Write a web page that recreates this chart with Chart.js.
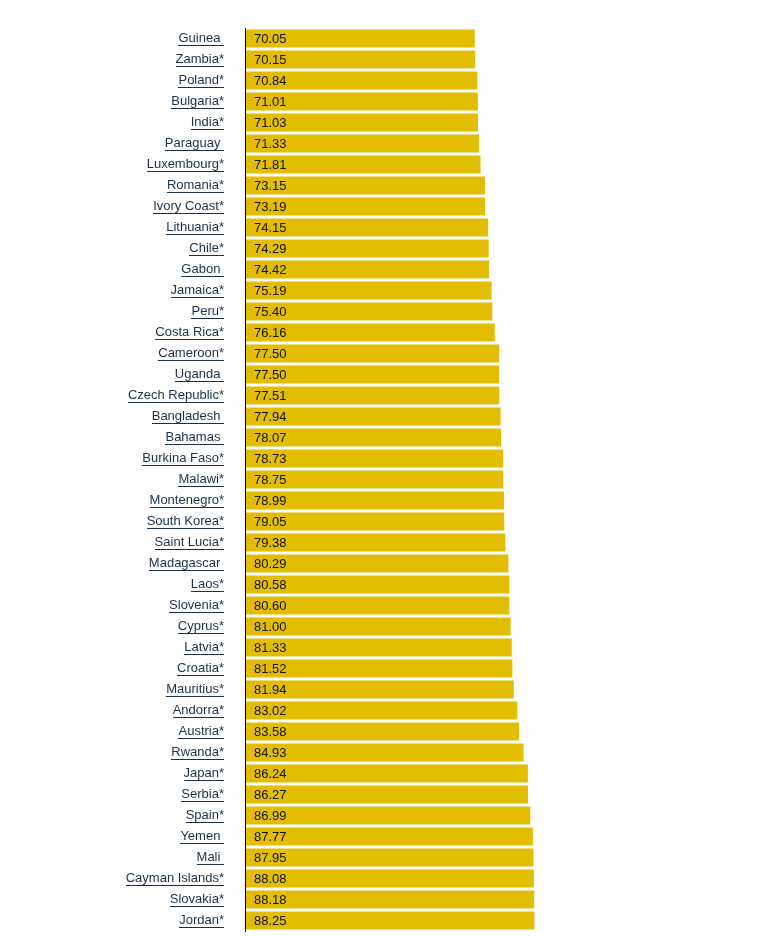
<!DOCTYPE html>
<html>
<head>
<meta charset="utf-8">
<script src="https://cdn.jsdelivr.net/npm/chart.js@4.4.1/dist/chart.umd.min.js"></script>
<style>
  html, body { margin: 0; padding: 0; background: #fff; overflow: hidden; }
  canvas { display: block; }
</style>
</head>
<body>
<canvas id="scoreChart" width="783" height="936"></canvas>
<script>
// Countries (trailing "*" or space kept as shown)
var countries = [
  'Guinea ', 'Zambia*', 'Poland*', 'Bulgaria*', 'India*', 'Paraguay ', 'Luxembourg*',
  'Romania*', 'Ivory Coast*', 'Lithuania*', 'Chile*', 'Gabon ', 'Jamaica*', 'Peru*',
  'Costa Rica*', 'Cameroon*', 'Uganda ', 'Czech Republic*', 'Bangladesh ', 'Bahamas ',
  'Burkina Faso*', 'Malawi*', 'Montenegro*', 'South Korea*', 'Saint Lucia*', 'Madagascar ',
  'Laos*', 'Slovenia*', 'Cyprus*', 'Latvia*', 'Croatia*', 'Mauritius*', 'Andorra*',
  'Austria*', 'Rwanda*', 'Japan*', 'Serbia*', 'Spain*', 'Yemen ', 'Mali ',
  'Cayman Islands*', 'Slovakia*', 'Jordan*'
];
var scores = [
  70.05, 70.15, 70.84, 71.01, 71.03, 71.33, 71.81,
  73.15, 73.19, 74.15, 74.29, 74.42, 75.19, 75.40,
  76.16, 77.50, 77.50, 77.51, 77.94, 78.07,
  78.73, 78.75, 78.99, 79.05, 79.38, 80.29,
  80.58, 80.60, 81.00, 81.33, 81.52, 81.94, 83.02,
  83.58, 84.93, 86.24, 86.27, 86.99, 87.77, 87.95,
  88.08, 88.18, 88.25
];
var scaleMax = 100;

var labelFont = { family: 'Arial, "Liberation Sans", sans-serif', size: 13 };
var labelColor = '#1b3149';

// values written inside the bars
var valueLabels = {
  id: 'valueLabels',
  afterDatasetsDraw: function (chart) {
    var ctx = chart.ctx;
    var meta = chart.getDatasetMeta(0);
    ctx.save();
    ctx.font = '13px Arial, "Liberation Sans", sans-serif';
    ctx.fillStyle = '#111';
    ctx.textAlign = 'left';
    ctx.textBaseline = 'middle';
    meta.data.forEach(function (bar, i) {
      ctx.fillText(scores[i].toFixed(2), bar.base + 9, bar.y + 0.5);
    });
    ctx.restore();
  }
};

// link-style underline under the country names
var underlineLabels = {
  id: 'underlineLabels',
  afterDraw: function (chart) {
    var ctx = chart.ctx;
    var yScale = chart.scales.y;
    var right = yScale.right - yScale.options.ticks.padding;
    ctx.save();
    ctx.font = '13px Arial, "Liberation Sans", sans-serif';
    ctx.fillStyle = labelColor;
    countries.forEach(function (name, i) {
      var y = yScale.getPixelForTick(i);
      var w = ctx.measureText(name).width;
      ctx.fillRect(Math.round(right - w), Math.round(y + 6), Math.round(w), 1);
    });
    ctx.restore();
  }
};

var ctx = document.getElementById('scoreChart').getContext('2d');
var chart = new Chart(ctx, {
  type: 'bar',
  data: {
    labels: countries,
    datasets: [{
      data: scores,
      backgroundColor: '#e3bd02',
      borderWidth: 0,
      barPercentage: 0.86,
      categoryPercentage: 1.0
    }]
  },
  options: {
    indexAxis: 'y',
    responsive: false,
    animation: false,
    layout: {
      padding: { left: 0, right: 210, top: 28, bottom: 5 }
    },
    plugins: {
      legend: { display: false },
      tooltip: { enabled: false }
    },
    scales: {
      x: {
        display: false,
        min: 0,
        max: scaleMax,
        afterFit: function (scale) { scale.height = 0; }
      },
      y: {
        afterFit: function (scale) {
          scale.width = 245;
          scale.paddingTop = 0;
          scale.paddingBottom = 0;
        },
        grid: { display: false, drawTicks: false },
        border: { display: true, color: '#000', width: 1, z: 1 },
        ticks: {
          padding: 21,
          autoSkip: false,
          color: labelColor,
          font: labelFont
        }
      }
    }
  },
  plugins: [valueLabels, underlineLabels]
});
</script>
</body>
</html>
